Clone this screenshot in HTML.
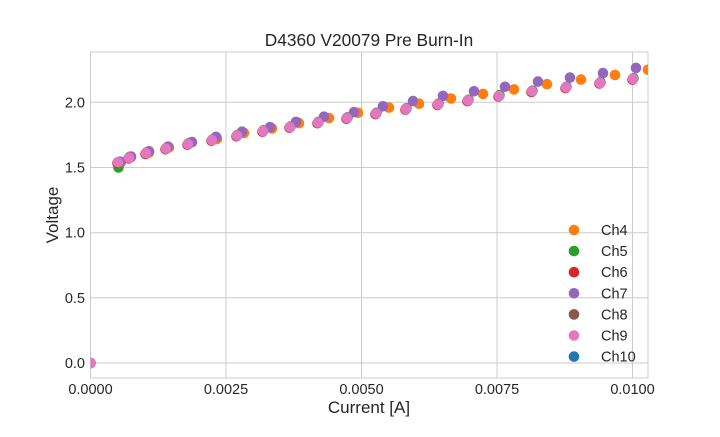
<!DOCTYPE html>
<html><head><meta charset="utf-8"><style>
body{margin:0;background:#fff;}
svg text{font-family:"Liberation Sans",sans-serif;fill:#262626;}
</style></head><body>
<svg id="s" width="720" height="432" xmlns="http://www.w3.org/2000/svg">
<defs><clipPath id="c"><rect x="90.5" y="52" width="557.5" height="326"/></clipPath></defs>
<rect x="90.5" y="52" width="557.5" height="326" fill="#fff" stroke="#ccc" stroke-width="1"/>
<g stroke="#ccc" stroke-width="1">
<line x1="226" y1="52" x2="226" y2="378"/><line x1="361.5" y1="52" x2="361.5" y2="378"/><line x1="497" y1="52" x2="497" y2="378"/><line x1="632.5" y1="52" x2="632.5" y2="378"/>
<line x1="90.5" y1="363" x2="648" y2="363"/><line x1="90.5" y1="297.8" x2="648" y2="297.8"/><line x1="90.5" y1="232.7" x2="648" y2="232.7"/><line x1="90.5" y1="167.5" x2="648" y2="167.5"/><line x1="90.5" y1="102.3" x2="648" y2="102.3"/>
</g>
<g font-size="14.5" text-anchor="end">
<text x="85" y="368">0.0</text><text x="85" y="302.8">0.5</text><text x="85" y="237.7">1.0</text><text x="85" y="172.5">1.5</text><text x="85" y="107.3">2.0</text>
</g>
<g font-size="14.5" text-anchor="middle">
<text x="90.5" y="394">0.0000</text><text x="226" y="394">0.0025</text><text x="361.5" y="394">0.0050</text><text x="497" y="394">0.0075</text><text x="632.5" y="394">0.0100</text>
</g>
<text x="369" y="413" font-size="17" text-anchor="middle">Current [A]</text>
<text transform="translate(58,215) rotate(-90)" font-size="17" text-anchor="middle">Voltage</text>
<text x="369" y="46" font-size="17.3" text-anchor="middle">D4360 V20079 Pre Burn-In</text>
<g id="pts" clip-path="url(#c)"></g>
<g id="leg" font-size="14.5"></g>
</svg>
<script>
var Y=function(v){return 363-v*130.3;};
var pink=[[118,1.54],[129,1.575],[146,1.61],[166,1.645],[188,1.68],[212,1.71],[237,1.745],[263,1.78],[290,1.81],[318,1.845],[347,1.88],[376,1.915],[406,1.95],[438,1.985],[468,2.015],[499,2.05],[532,2.085],[566,2.115],[600,2.15],[633,2.18]];
var purple=[[120,1.545],[131,1.585],[149,1.625],[168,1.66],[192,1.695],[216,1.735],[242,1.775],[270,1.81],[296,1.85],[324,1.89],[354,1.925],[383,1.97],[413,2.01],[443,2.05],[474,2.085],[505,2.12],[538,2.16],[570,2.19],[603,2.225],[636,2.265]];
var orange=[[121,1.54],[131,1.58],[149,1.615],[169,1.655],[190,1.69],[217,1.72],[244,1.765],[272,1.8],[299,1.84],[329,1.88],[358,1.92],[389,1.96],[419,1.99],[451,2.03],[483,2.065],[514,2.1],[547,2.14],[581,2.175],[615,2.21],[648,2.25]];
var green=pink.map(function(p,i){return [p[0]+0.5,i==0?1.50:p[1]+0.005];});
var red=pink.map(function(p){return [p[0]-0.5,p[1]-0.005];});
var series=[["#ff7f0e",orange],["#2ca02c",green],["#d62728",red],["#9467bd",purple],["#8c564b",pink],["#e377c2",pink]];
var g=document.getElementById('pts'),h='';
series.forEach(function(s){h+='<circle cx="90.5" cy="363" r="5.3" fill="'+s[0]+'"/>';s[1].forEach(function(p){h+='<circle cx="'+p[0]+'" cy="'+Y(p[1]).toFixed(1)+'" r="5.3" fill="'+s[0]+'"/>';});});
g.innerHTML=h;
var L=[["Ch4","#ff7f0e"],["Ch5","#2ca02c"],["Ch6","#d62728"],["Ch7","#9467bd"],["Ch8","#8c564b"],["Ch9","#e377c2"],["Ch10","#1f77b4"]],lh='';
L.forEach(function(l,i){var y=230+i*21.1;lh+='<circle cx="574" cy="'+y+'" r="5.3" fill="'+l[1]+'"/><text x="601" y="'+(y+5)+'">'+l[0]+'</text>';});
document.getElementById('leg').innerHTML=lh;
</script>
</body></html>
